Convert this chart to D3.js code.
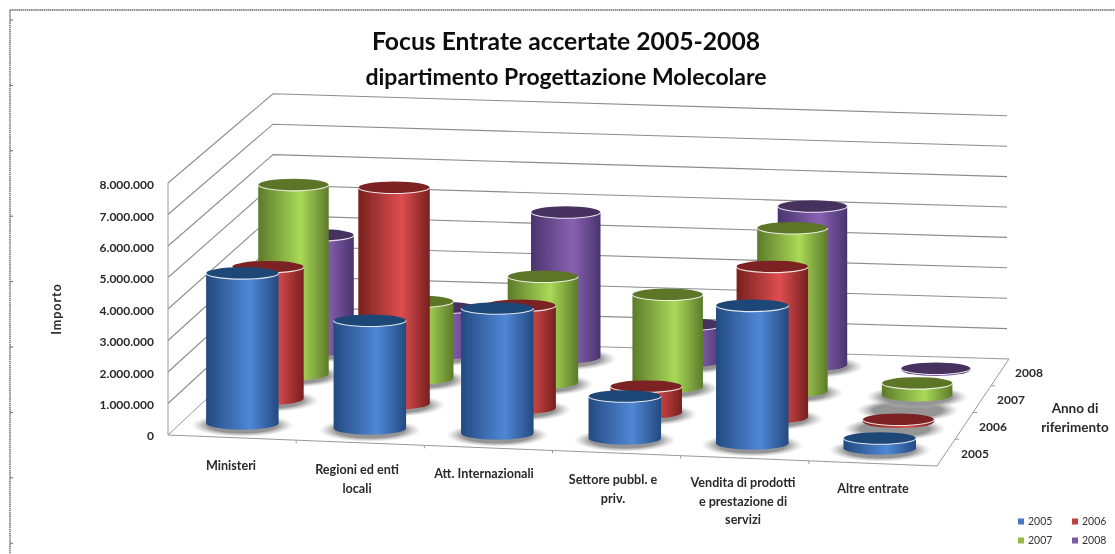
<!DOCTYPE html>
<html lang="it">
<head>
<meta charset="UTF-8" />
<title>Focus Entrate accertate 2005-2008</title>
<script src="https://d3js.org/d3.v7.min.js"></script>
<style>
  body { margin: 0; background: #fff; overflow: hidden; }
  svg { display: block; font-family: Lato, sans-serif; }
  .lbl { font-size: 12.6px; font-weight: 700; fill: #2a2a2a; }
  .axis text { font-size: 12px; font-weight: 700; fill: #2a2a2a; font-family: Lato, sans-serif; }
  .grid { fill: none; stroke: #8c8c8c; stroke-width: 1.1px; }
  .edge { fill: none; stroke: #999; stroke-width: 1px; }
</style>
</head>
<body>
<svg width="1115" height="554"></svg>
<script>
  const categories = [
    ["Ministeri"],
    ["Regioni ed enti", "locali"],
    ["Att. Internazionali"],
    ["Settore pubbl. e", "priv."],
    ["Vendita di prodotti", "e prestazione di", "servizi"],
    ["Altre entrate"]
  ];
  const years = ["2005", "2006", "2007", "2008"];

  // values, one per category
  const values2005 = [4850000, 3500000, 4050000, 1400000, 4450000, 380000];
  const values2006 = [4300000, 7000000, 3350000, 900000, 4900000, 130000];
  const values2007 = [6200000, 2550000, 3500000, 3050000, 5350000, 450000];
  const values2008 = [3800000, 1550000, 4800000, 1250000, 5250000, 65000];
  const allValues = [values2005, values2006, values2007, values2008];

  const valueTicks = [0, 1e6, 2e6, 3e6, 4e6, 5e6, 6e6, 7e6, 8e6];

  const colors = {
    "2005": { edge: "#234a80", mid: "#4f87d6", top: "#1f4676", legend: "#4679c0" },
    "2006": { edge: "#78201f", mid: "#de4e50", top: "#7c2222", legend: "#c0403f" },
    "2007": { edge: "#5d7a2a", mid: "#a9da58", top: "#5b7428", legend: "#94bb4c" },
    "2008": { edge: "#4a346e", mid: "#8862b2", top: "#47305f", legend: "#7a5aa6" }
  };

  const svg = d3.select("svg");
  const defs = svg.append("defs");

  defs.append("filter").attr("id", "soft").append("feGaussianBlur").attr("stdDeviation", 0.55);
  defs.append("filter").attr("id", "softText").append("feGaussianBlur").attr("stdDeviation", 0.35);

  years.forEach(y => {
    const g = defs.append("linearGradient").attr("id", "body" + y);
    g.append("stop").attr("offset", "0%").attr("stop-color", colors[y].edge);
    g.append("stop").attr("offset", "60%").attr("stop-color", colors[y].mid);
    g.append("stop").attr("offset", "100%").attr("stop-color", colors[y].edge);
  });
  const sg = defs.append("radialGradient").attr("id", "shadow");
  sg.append("stop").attr("offset", "68%").attr("stop-color", "#959595").attr("stop-opacity", 1);
  sg.append("stop").attr("offset", "100%").attr("stop-color", "#bbb").attr("stop-opacity", 0);

  // floor corners of the 3d box, on the page
  const floorFL = [168, 435], floorFR = [937, 466], floorBR = [1009, 359], floorBL = [273, 337];

  const uScale = d3.scaleBand().domain(d3.range(categories.length)).range([0, 1]);
  const vScale = d3.scaleBand().domain(years).range([0, 1]);
  const unitScale = d3.scaleLinear().domain([0, 1]).range([31.5, 30.4]); // px per million, front to back
  const radiusScale = d3.scaleLinear().domain([0, 1]).range([36.5, 34.5]);

  function floor(u, v) {
    const fx = floorFL[0] + (floorFR[0] - floorFL[0]) * u, fy = floorFL[1] + (floorFR[1] - floorFL[1]) * u;
    const bx = floorBL[0] + (floorBR[0] - floorBL[0]) * u, by = floorBL[1] + (floorBR[1] - floorBL[1]) * u;
    return [fx + (bx - fx) * v, fy + (by - fy) * v];
  }
  const lift = (v, value) => unitScale(v) * value / 1e6;

  // the cylinders sit a little left of and above their floor cell
  const barX = d => floor(d.u, d.v)[0] - 2.5;
  const barTop = d => floor(d.u, d.v)[1] - lift(d.v, d.value);
  const barBase = d => Math.max(floor(d.u, d.v)[1] - 2, barTop(d) + 1);

  // frame
  const frame = svg.append("g").attr("stroke", "#666").attr("fill", "none");
  frame.append("path").attr("d", "M10,10V554M10,10H1115").attr("stroke-width", 1.4).attr("stroke-dasharray", "1.5 0.6");
  frame.selectAll("line").data(d3.range(20, 554, 65.4)).join("line")
    .attr("x1", 10).attr("x2", 13).attr("y1", d => d).attr("y2", d => d);

  const chart = svg.append("g").attr("filter", "url(#soft)");

  // gridlines on the two walls
  chart.selectAll("path.grid").data(valueTicks.slice(1)).join("path")
    .attr("class", "grid")
    .attr("d", d => d3.line()([
      [floorFL[0], floorFL[1] - lift(0, d)],
      [floorBL[0], floorBL[1] - lift(1, d)],
      [floorBR[0] - 2, floorBR[1] - lift(1, d)]
    ]));

  // floor and axis edges
  chart.append("path").attr("class", "edge")
    .attr("d", d3.line()([floorFL, floorBL, floorBR, floorFR, floorFL]));
  chart.append("path").attr("class", "edge")
    .attr("d", d3.line()([[floorFL[0], floorFL[1] - lift(0, 8e6)], floorFL]));

  // axis ticks on the floor edges
  d3.range(1, categories.length).forEach(i => {
    const p = floor(i / categories.length, 0);
    chart.append("line").attr("class", "edge").attr("x1", p[0]).attr("x2", p[0]).attr("y1", p[1]).attr("y2", p[1] + 3);
  });
  d3.range(1, years.length).forEach(j => {
    const p = floor(1, j / years.length);
    chart.append("line").attr("class", "edge").attr("x1", p[0]).attr("x2", p[0] + 4).attr("y1", p[1]).attr("y2", p[1]);
  });

  // one record per cylinder, drawn from the back row forward
  const bars = [];
  years.forEach((y, j) => {
    allValues[j].forEach((value, i) => {
      const u = uScale(i) + uScale.bandwidth() / 2;
      const v = vScale(y) + vScale.bandwidth() / 2;
      bars.push({ year: y, i, j, u, v, value });
    });
  });
  const drawOrder = d3.groups(bars, d => d.j).sort((a, b) => b[0] - a[0]);

  const shadow = sel => sel
    .attr("fill", "url(#shadow)")
    .attr("cx", d => floor(d.u, d.v)[0] - 2.5)
    .attr("cy", d => floor(d.u, d.v)[1])
    .attr("rx", 51)
    .attr("ry", 11.5);

  // the two loose shadows next to the flat 2006 disc of the last category
  const lastU = uScale(categories.length - 1) + uScale.bandwidth() / 2;
  chart.selectAll("ellipse.loose").data([{ u: lastU, v: 0.5 }, { u: lastU, v: 0.325 }]).join("ellipse")
    .attr("class", "loose").call(shadow);

  drawOrder.forEach(([j, row]) => {
    const rowG = chart.append("g");
    // very flat discs throw no shadow of their own
    rowG.selectAll("ellipse.shadow").data(row.filter(d => d.value > 300000)).join("ellipse")
      .attr("class", "shadow").call(shadow);

    const bar = rowG.selectAll("g.bar").data(row).join("g").attr("class", "bar");
    bar.append("path")
      .attr("fill", d => `url(#body${d.year})`)
      .attr("d", d => {
        const x = barX(d), r = radiusScale(d.v);
        return `M${x - r},${barTop(d)}L${x - r},${barBase(d)}A${r},6.5 0 0 0 ${x + r},${barBase(d)}L${x + r},${barTop(d)}Z`;
      });
    bar.append("ellipse")
      .attr("fill", d => colors[d.year].top)
      .attr("cx", barX)
      .attr("cy", barTop)
      .attr("rx", d => radiusScale(d.v))
      .attr("ry", 6);
    bar.append("path")
      .attr("fill", "none")
      .attr("stroke", "#fff")
      .attr("stroke-opacity", 0.85)
      .attr("stroke-width", 1.1)
      .attr("d", d => {
        const x = barX(d), r = radiusScale(d.v);
        return `M${x - r},${barTop(d)}A${r},6 0 0 0 ${x + r},${barTop(d)}`;
      });
  });

  const textLayer = svg.append("g").attr("filter", "url(#softText)");

  // value axis
  const itLocale = d3.formatLocale({ decimal: ",", thousands: ".", grouping: [3], currency: ["", ""] });
  const yAxisScale = d3.scaleLinear().domain([0, 8e6]).range([436, 185]);
  textLayer.append("g").attr("class", "axis").attr("transform", "translate(154,0)")
    .call(d3.axisLeft(yAxisScale).tickValues(valueTicks).tickSize(0).tickPadding(0).tickFormat(itLocale.format(",")))
    .call(g => g.select(".domain").remove());

  // titles
  textLayer.append("text").attr("x", 566).attr("y", 50).attr("text-anchor", "middle")
    .attr("font-size", 24.7).attr("font-weight", 700).attr("fill", "#111").text("Focus Entrate accertate 2005-2008");
  textLayer.append("text").attr("x", 566).attr("y", 85).attr("text-anchor", "middle")
    .attr("font-size", 23).attr("font-weight", 700).attr("fill", "#111").text("dipartimento Progettazione Molecolare");

  textLayer.append("text").attr("class", "lbl").attr("text-anchor", "middle")
    .attr("letter-spacing", 0.9).attr("font-size", 13)
    .attr("transform", "translate(61,309) rotate(-90)").text("Importo");

  // category labels, they step down along the front edge
  const catCenters = [231, 357, 484, 613, 743, 873];
  const catTops = [470, 474, 478, 484, 487, 493];
  const catLeading = 18.5;
  categories.forEach((lines, i) => {
    const t = textLayer.append("text").attr("class", "lbl").attr("text-anchor", "middle");
    lines.forEach((line, k) => {
      t.append("tspan").attr("x", catCenters[i]).attr("y", catTops[i] + k * catLeading).text(line);
    });
  });

  // year labels beside the right floor edge
  years.forEach(y => {
    const p = floor(1, vScale(y) + vScale.bandwidth() / 2);
    textLayer.append("text").attr("class", "lbl").style("font-size", "12px")
      .attr("x", p[0] + 15).attr("y", p[1] + 5).text(y);
  });
  const depthTitle = textLayer.append("text").attr("class", "lbl").attr("text-anchor", "middle").style("font-size", "13.5px");
  ["Anno di", "riferimento"].forEach((line, k) => {
    depthTitle.append("tspan").attr("x", 1075).attr("y", 413 + k * 19).text(line);
  });

  // legend
  const legendX = d3.scalePoint().domain([0, 1]).range([1018, 1072]);
  const legendY = d3.scalePoint().domain([0, 1]).range([521, 540]);
  years.forEach((y, k) => {
    const col = k % 2, row = Math.floor(k / 2);
    textLayer.append("rect").attr("x", legendX(col)).attr("y", legendY(row) - 2.5)
      .attr("width", 6).attr("height", 6).attr("fill", colors[y].legend);
    textLayer.append("text").attr("x", legendX(col) + 10).attr("y", legendY(row) + 4)
      .attr("font-size", 10.5).attr("font-weight", 400).attr("fill", "#333").text(y);
  });
</script>
</body>
</html>
